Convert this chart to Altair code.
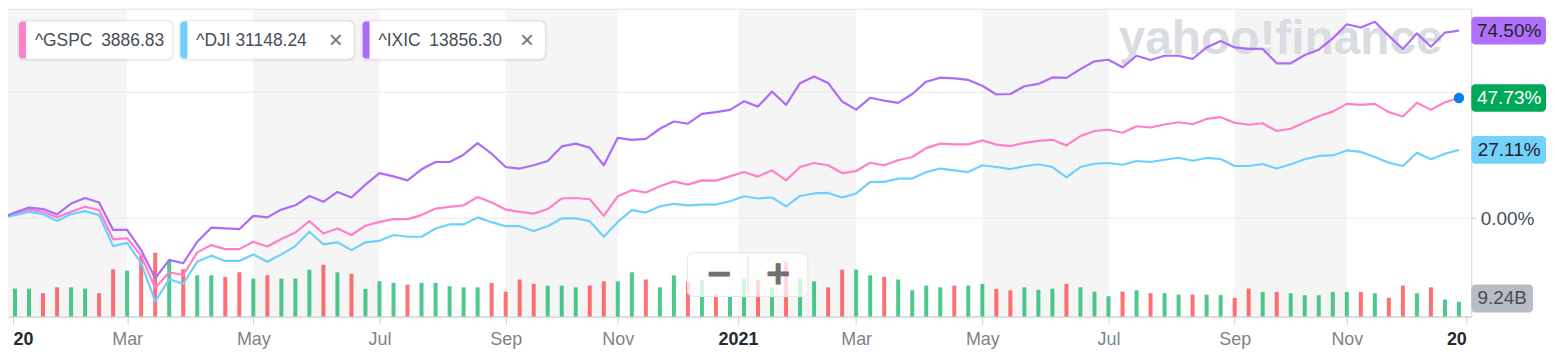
import altair as alt
import pandas as pd

# ---------------- data ----------------
# weekly points (Mondays), first one 2020-01-06, last one 2021-12-27
week_dates = pd.date_range("2020-01-06", periods=104, freq="7D").strftime("%Y-%m-%d").tolist()
base_date = "2019-12-30"   # comparison base (0 %)

series_names = ["^GSPC", "^DJI", "^IXIC"]
series_prices = ["3886.83", "31148.24", "13856.30"]
series_colors = ["#ff80c8", "#6dd0ff", "#ac6cf8"]

gspc_pct = [1.7, 3.4, 2.5, 0.3, 2.5, 4.5, 3.2, -8.4, -8.0, -14.9,
            -27.8, -21.5, -22.6, -13.6, -10.7, -12.3, -12.3, -9.4, -11.3, -8.3,
            -5.7, -1.2, -6.1, -4.1, -6.7, -3.0, -1.5, -0.4, -0.4, 1.2,
            3.8, 4.5, 5.1, 8.4, 6.2, 3.4, 2.5, 1.8, 3.6, 7.8,
            8.0, 7.5, 0.9, 8.7, 11.1, 10.2, 12.7, 14.6, 13.3, 15.0,
            14.9, 16.6, 18.3, 16.5, 19.0, 15.0, 20.3, 21.9, 21.0, 17.9,
            18.7, 22.0, 21.0, 23.0, 24.3, 27.8, 29.6, 29.3, 29.3, 30.9,
            29.2, 28.6, 29.9, 30.7, 31.1, 28.9, 32.6, 34.6, 35.1, 33.9,
            36.5, 36.0, 37.2, 38.1, 37.3, 39.4, 40.1, 37.9, 37.1, 37.7,
            34.6, 35.5, 38.1, 40.5, 42.3, 45.4, 45.0, 45.4, 42.1, 40.4,
            45.8, 43.0, 46.0, 47.73]

dji_pct = [1.2, 2.5, 1.6, -1.1, 1.6, 2.8, 1.2, -11.1, -9.8, -17.9,
           -33.1, -24.3, -26.1, -17.3, -14.9, -17.0, -17.0, -14.4, -17.3, -14.4,
           -11.1, -5.4, -10.4, -9.6, -12.7, -9.6, -9.0, -6.7, -7.4, -7.4,
           -4.1, -2.5, -2.5, 0.3, -1.6, -3.2, -3.2, -5.1, -3.2, -0.1,
           -0.1, -1.2, -7.4, -1.5, 3.2, 2.2, 4.7, 5.7, 5.1, 5.4,
           5.4, 6.7, 8.7, 7.8, 8.2, 4.7, 8.8, 9.8, 10.0, 8.2,
           9.8, 14.4, 14.4, 15.7, 15.7, 18.3, 19.7, 19.0, 18.3, 21.0,
           20.3, 19.5, 20.6, 21.4, 20.3, 16.2, 20.3, 21.6, 21.9, 21.2,
           22.7, 22.3, 23.2, 24.0, 22.8, 23.9, 23.5, 20.7, 20.7, 21.5,
           19.7, 21.4, 23.4, 24.7, 24.9, 26.9, 26.3, 24.3, 22.0, 20.7,
           26.0, 23.4, 25.6, 27.11]

ixic_pct = [2.2, 4.2, 3.6, 1.5, 5.8, 8.0, 6.2, -4.7, -4.7, -12.7,
            -23.9, -16.6, -17.9, -9.4, -3.8, -4.1, -4.4, 0.9, 0.3, 3.4,
            5.1, 8.8, 6.5, 10.4, 8.2, 13.3, 17.9, 16.6, 15.0, 19.4,
            22.3, 22.3, 25.2, 29.8, 25.6, 20.3, 19.7, 21.0, 22.7, 28.5,
            29.6, 28.0, 21.0, 31.9, 31.1, 31.5, 35.5, 38.4, 37.5, 41.4,
            42.1, 43.0, 46.4, 44.3, 50.3, 45.0, 53.6, 56.3, 53.7, 46.3,
            43.1, 47.8, 46.7, 45.8, 49.3, 54.2, 55.8, 55.5, 54.9, 52.6,
            49.1, 49.3, 52.4, 53.3, 55.9, 55.7, 59.2, 62.3, 62.9, 59.9,
            64.5, 62.8, 64.5, 64.5, 63.2, 67.8, 70.4, 67.8, 67.2, 67.2,
            61.5, 61.5, 64.8, 66.9, 71.4, 77.0, 75.7, 78.0, 72.4, 67.2,
            73.4, 68.1, 73.7, 74.50]

# weekly volume, billions
volume_b = [17.6, 17.6, 14.7, 18.4, 18.4, 17.6, 14.7, 29.8, 28.9, 38.6,
            40.3, 35.2, 29.8, 26.0, 26.0, 25.0, 27.9, 23.9, 26.0, 23.9,
            23.9, 29.6, 32.7, 27.9, 26.9, 17.4, 22.2, 21.2, 20.1, 21.2,
            21.2, 19.1, 18.4, 18.4, 21.2, 15.7, 23.3, 20.6, 19.5, 19.5,
            18.4, 19.5, 22.2, 22.2, 27.9, 23.3, 18.4, 26.0, 22.2, 23.3,
            13.8, 12.8, 23.9, 23.3, 18.4, 34.4, 23.9, 22.2, 18.4, 29.6,
            29.6, 26.0, 25.0, 23.3, 16.5, 19.5, 18.4, 19.5, 19.5, 20.6,
            17.4, 16.5, 18.4, 16.8, 17.6, 20.6, 18.4, 15.7, 12.8, 15.7,
            16.5, 14.7, 14.7, 13.8, 13.8, 13.8, 13.5, 11.8, 17.6, 15.5,
            15.5, 14.7, 13.4, 13.4, 15.5, 15.5, 15.5, 14.7, 11.8, 19.5,
            14.7, 18.4, 10.7, 9.24]

# 1 = up week (green), 0 = down week (red)
volume_up = [1, 1, 0, 0, 1, 1, 0, 0, 1, 0,
             0, 1, 0, 1, 1, 0, 0, 1, 0, 1,
             1, 1, 0, 1, 0, 1, 1, 1, 0, 1,
             1, 1, 1, 1, 0, 0, 0, 0, 1, 1,
             1, 0, 0, 1, 1, 0, 1, 1, 0, 1,
             0, 1, 1, 0, 1, 0, 1, 1, 0, 0,
             1, 1, 0, 1, 1, 1, 1, 0, 1, 1,
             0, 0, 1, 1, 1, 0, 1, 1, 1, 0,
             1, 0, 1, 1, 0, 1, 1, 0, 0, 1,
             0, 1, 1, 1, 1, 1, 0, 1, 0, 0,
             1, 0, 1, 1]

# alternating shaded two-month bands
band_starts = ["2020-01-01", "2020-05-04", "2020-09-07", "2021-01-01", "2021-05-03", "2021-09-06"]
band_ends = ["2020-03-02", "2020-07-06", "2020-11-02", "2021-03-01", "2021-07-05", "2021-11-01"]

grid_values = [0, 50]
last_volume_label = "9.24B"

# ---------------- layout ----------------
W, H = 1469, 309
PCT_DOMAIN = [-39.06, 83.2]
VOL_DOMAIN = [0, 194.4]
FONT = "Liberation Sans"

rows = []
for name, vals in zip(series_names, [gspc_pct, dji_pct, ixic_pct]):
    rows.append({"date": base_date, "series": name, "pct": 0.0})
    for d, v in zip(week_dates, vals):
        rows.append({"date": d, "series": name, "pct": v})
lines_df = pd.DataFrame(rows)
vol_df = pd.DataFrame({"date": week_dates, "vol": volume_b, "up": volume_up})
bands_df = pd.DataFrame({"start": band_starts, "end": band_ends})

tick_values = [
    alt.DateTime(year=2020, month=1, date=5, utc=True),
    alt.DateTime(year=2020, month=3, date=2, utc=True),
    alt.DateTime(year=2020, month=5, date=4, utc=True),
    alt.DateTime(year=2020, month=7, date=6, utc=True),
    alt.DateTime(year=2020, month=9, date=7, utc=True),
    alt.DateTime(year=2020, month=11, date=2, utc=True),
    alt.DateTime(year=2021, month=1, date=1, utc=True),
    alt.DateTime(year=2021, month=3, date=1, utc=True),
    alt.DateTime(year=2021, month=5, date=3, utc=True),
    alt.DateTime(year=2021, month=7, date=5, utc=True),
    alt.DateTime(year=2021, month=9, date=6, utc=True),
    alt.DateTime(year=2021, month=11, date=1, utc=True),
    alt.DateTime(year=2021, month=12, date=30, hours=16, utc=True),
]
x_scale = alt.Scale(type="utc", domain=[tick_values[0], tick_values[-1]])
year_test = "utcmonth(datum.value) == 0 || utcmonth(datum.value) == 11"
first_test = "utcmonth(datum.value) == 0 && utcyear(datum.value) == 2020"
last_test = "utcmonth(datum.value) == 11"
x_axis = alt.Axis(
    values=tick_values,
    labelExpr=("utcmonth(datum.value) == 0 ? (utcyear(datum.value) == 2021 ? '2021' : '20')"
               " : (utcmonth(datum.value) == 11 ? '20' : utcFormat(datum.value, '%b'))"),
    labelFlush=False,
    labelAlign={"condition": [{"test": first_test, "value": "left"},
                              {"test": last_test, "value": "right"}],
                "value": "center"},
    labelFont=FONT,
    labelFontSize=18,
    labelColor={"condition": {"test": year_test, "value": "#232a31"}, "value": "#7d8389"},
    labelFontWeight={"condition": {"test": year_test, "value": "bold"}, "value": "normal"},
    labelBaseline="middle",
    labelPadding=15,
    tickSize=8,
    tickColor="#cfd2d6",
    domainColor="#cfd2d6",
    domainWidth=1.5,
    grid=False,
    title=None,
)


def X(field):
    return alt.X(f"{field}:T", scale=x_scale, axis=x_axis, title=None)


y_pct_scale = alt.Scale(domain=PCT_DOMAIN, nice=False, zero=False)


def Ypct(field, axis=None):
    return alt.Y(f"{field}:Q", scale=y_pct_scale, axis=axis, title=None)


y_axis = alt.Axis(
    orient="right", values=[0], labelExpr="format(datum.value, '.2f') + '%'",
    grid=False, domain=True, domainColor="#cfd2d6", tickColor="#cfd2d6", tickSize=5,
    labelPadding=4, labelFont=FONT, labelFontSize=19, labelColor="#464e56",
    labelBaseline="middle", title=None,
)

one = pd.DataFrame({"k": [0]})
layers = []

# shaded bands
layers.append(alt.Chart(bands_df).mark_rect(color="#f5f5f5", clip=True).encode(
    x=X("start"), x2=alt.X2("end:T")))
# top border
layers.append(alt.Chart(one).mark_rule(color="#e3e3e3").encode(
    x=alt.value(0), x2=alt.value(W), y=alt.value(0.5)))
# gridlines
layers.append(alt.Chart(pd.DataFrame({"g": grid_values})).mark_rule(color="#e9e9e9").encode(
    y=Ypct("g")))
# watermark
layers.append(alt.Chart(pd.DataFrame({"t": ["yahoo!finance"]})).mark_text(
    align="left", baseline="alphabetic", font=FONT, fontWeight="bold", fontSize=48,
    color="#d9dce0").encode(x=alt.value(1115), y=alt.value(46), text="t:N"))
# volume bars
layers.append(alt.Chart(vol_df).mark_bar(size=4, opacity=0.7).encode(
    x=X("date"),
    y=alt.Y("vol:Q", scale=alt.Scale(domain=VOL_DOMAIN, nice=False), axis=None, title=None),
    color=alt.condition("datum.up == 1", alt.value("#00b25a"), alt.value("#ff333a")),
))
# lines
layers.append(alt.Chart(lines_df).mark_line(strokeWidth=2.2, clip=True, strokeJoin="round").encode(
    x=X("date"), y=Ypct("pct", axis=y_axis),
    color=alt.Color("series:N", scale=alt.Scale(domain=series_names, range=series_colors), legend=None),
))

# zoom control
layers.append(alt.Chart(one).mark_rect(fill="white", fillOpacity=0.75, stroke="#e6e6e6",
                                       cornerRadius=6).encode(
    x=alt.value(682), x2=alt.value(803), y=alt.value(245), y2=alt.value(289)))
layers.append(alt.Chart(one).mark_rule(color="#dedede").encode(
    x=alt.value(743), y=alt.value(248), y2=alt.value(286)))
for glyph, gx in [("\u2212", 714), ("+", 773)]:
    layers.append(alt.Chart(pd.DataFrame({"t": [glyph]})).mark_text(
        font="DejaVu Sans", fontWeight="bold", fontSize=32, color="#707070",
        stroke="#707070", strokeWidth=1.2, align="center", baseline="middle").encode(
        x=alt.value(gx), y=alt.value(266), text="t:N"))

# legend chips
chips = [
    (11, 165, series_colors[0], f"{series_names[0]}\u2002{series_prices[0]}", None),
    (173, 347, series_colors[1], f"{series_names[1]} {series_prices[1]}", 329),
    (356, 539, series_colors[2], f"{series_names[2]}\u2002{series_prices[2]}", 521),
]
for x0, x1, col, label, close_x in chips:
    layers.append(alt.Chart(one).mark_rect(fill="#000000", fillOpacity=0.06, cornerRadius=7).encode(
        x=alt.value(x0 - 2), x2=alt.value(x1 + 2), y=alt.value(11), y2=alt.value(53)))
    layers.append(alt.Chart(one).mark_rect(fill="white", cornerRadius=6).encode(
        x=alt.value(x0), x2=alt.value(x1), y=alt.value(13), y2=alt.value(50)))
    layers.append(alt.Chart(one).mark_rect(fill=col, cornerRadiusTopLeft=6, cornerRadiusBottomLeft=6).encode(
        x=alt.value(x0), x2=alt.value(x0 + 7), y=alt.value(13), y2=alt.value(50)))
    layers.append(alt.Chart(pd.DataFrame({"t": [label]})).mark_text(
        align="left", baseline="middle", font=FONT, fontSize=17.5, color="#464e56").encode(
        x=alt.value(x0 + 16), y=alt.value(32), text="t:N"))
    if close_x is not None:
        layers.append(alt.Chart(pd.DataFrame({"t": ["\u00d7"]})).mark_text(
            align="center", baseline="middle", font=FONT, fontSize=24, color="#6e757c").encode(
            x=alt.value(close_x), y=alt.value(32), text="t:N"))

# right-hand value labels
end_labels = [
    (ixic_pct[-1], "#b070fb", "#1d2228"),
    (gspc_pct[-1], "#00a85a", "#ffffff"),
    (dji_pct[-1], "#72d2fc", "#1d2228"),
]
for v, bg, fg in end_labels:
    d = pd.DataFrame({"v": [v], "t": [f"{v:.2f}%"]})
    layers.append(alt.Chart(d).transform_calculate(top="datum.v + 5.5", bot="datum.v - 5.5").mark_rect(
        fill=bg, cornerRadius=4).encode(
        x=alt.value(W), x2=alt.value(W + 75), y=Ypct("top"), y2=alt.Y2("bot:Q")))
    layers.append(alt.Chart(d).mark_text(
        align="center", baseline="middle", font=FONT, fontSize=19, color=fg).encode(
        x=alt.value(W + 38), y=Ypct("v"), text="t:N"))

# volume label
vd = pd.DataFrame({"v": [volume_b[-1]], "t": [last_volume_label]})
vol_scale = alt.Scale(domain=VOL_DOMAIN, nice=False)
layers.append(alt.Chart(vd).transform_calculate(top="datum.v + 10.9", bot="datum.v - 6.7").mark_rect(
    fill="#b8bcc3", cornerRadius=4).encode(
    x=alt.value(W), x2=alt.value(W + 62),
    y=alt.Y("top:Q", scale=vol_scale, axis=None, title=None), y2=alt.Y2("bot:Q")))
layers.append(alt.Chart(vd).transform_calculate(mid="datum.v + 2.1").mark_text(
    align="center", baseline="middle", font=FONT, fontSize=19, color="#464e56").encode(
    x=alt.value(W + 31), y=alt.Y("mid:Q", scale=vol_scale, axis=None, title=None), text="t:N"))

# end-point dot
layers.append(alt.Chart(pd.DataFrame({"date": [week_dates[-1]], "pct": [gspc_pct[-1]]})).mark_circle(
    size=110, color="#0081f2", opacity=1).encode(x=X("date"), y=Ypct("pct")))

chart = alt.layer(*layers).resolve_scale(y="independent").properties(
    width=W, height=H,
    padding={"left": 0, "top": 0, "right": 76, "bottom": 38},
    autosize=alt.AutoSizeParams(type="none"),
    background="white",
).configure_view(stroke=None)

chart.save("out.html", embed_options={"renderer": "svg", "actions": False})
